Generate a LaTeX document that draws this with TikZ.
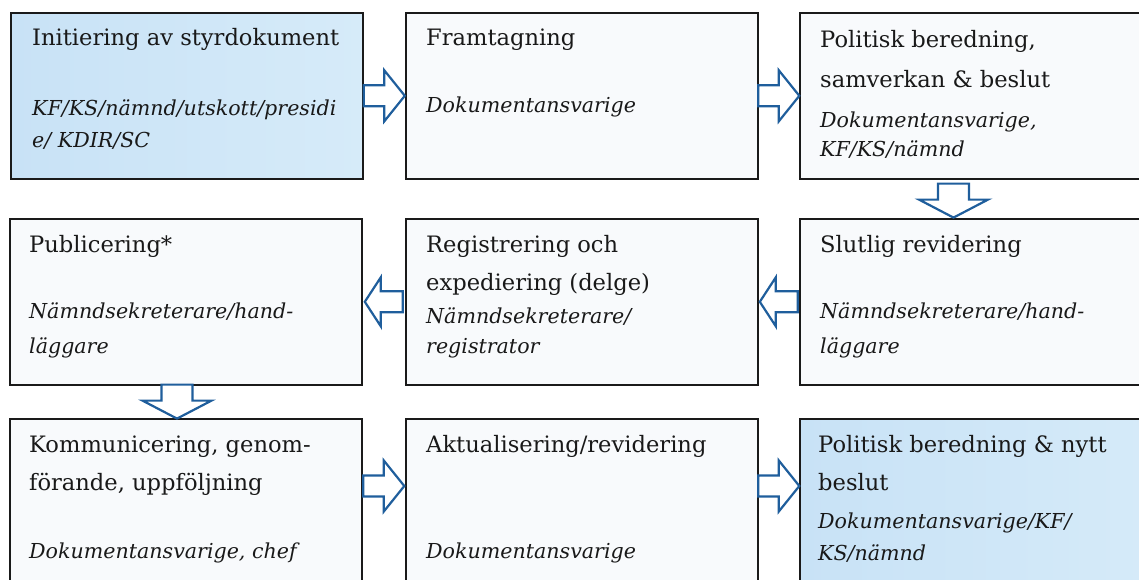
\documentclass[tikz,border=0pt]{standalone}
\usepackage{fontspec}
\setmainfont{DejaVu Serif}
\usetikzlibrary{calc}
\definecolor{arrblue}{HTML}{1F5E9C}
\definecolor{blueA}{HTML}{C8E2F6}
\definecolor{blueB}{HTML}{D6EBF9}
\definecolor{plainfill}{HTML}{F8FAFC}
\definecolor{boxline}{HTML}{1A1A1A}
\tikzset{
  box/.style={draw=boxline, line width=1.6pt, fill=plainfill, anchor=north west, inner sep=0pt, minimum width=352pt, minimum height=166pt},
  lastcol/.style={minimum width=372pt},
  lastrow/.style={minimum height=200pt},
  bluebox/.style={box, left color=blueA, right color=blueB},
  ttl/.style={anchor=base west, inner sep=0pt, text=black!90, font=\fontsize{22.6}{22.6}\selectfont},
  role/.style={anchor=base west, inner sep=0pt, text=black!90, font=\fontsize{20.6}{20.6}\selectfont\itshape},
  arr/.style={draw=arrblue, line width=2.2pt, fill=white, line join=miter},
  rarr/.pic={\draw[arr] (-20.5,-10.5) -- (0,-10.5) -- (0,-25.5) -- (20.5,0) -- (0,25.5) -- (0,10.5) -- (-20.5,10.5) -- cycle;},
  larr/.pic={\draw[arr] (19,-10.5) -- (-3,-10.5) -- (-3,-24.5) -- (-19,0) -- (-3,24.5) -- (-3,10.5) -- (19,10.5) -- cycle;},
  darr/.pic={\draw[arr] (-15.5,-16) -- (15.5,-16) -- (15.5,0) -- (34.5,0) -- (0,18) -- (-34.5,0) -- (-15.5,0) -- cycle;}
}
\begin{document}
\begin{tikzpicture}[x=1pt,y=-1pt]
\useasboundingbox (0,0) rectangle (1139,579);
\clip (0,0) rectangle (1139,579);
% boxes
\node[bluebox] (a) at (10,12) {};
\node[box] (b) at (405,12) {};
\node[box, lastcol] (c) at (799,12) {};
\node[box] (d) at (9,218) {};
\node[box] (e) at (405,218) {};
\node[box, lastcol] (f) at (799,218) {};
\node[box, lastrow] (g) at (9,418) {};
\node[box, lastrow] (h) at (405,418) {};
\node[bluebox, lastcol, lastrow] (i) at (799,418) {};
% texts
\node[ttl]  (a1) at ([shift={(22,33)}]a.north west) {Initiering av styrdokument};
\node[role] (a2) at ([shift={(22,103)}]a.north west) {KF/KS/nämnd/utskott/presidi};
\node[role] (a3) at ([shift={(22,135)}]a.north west) {e/ KDIR/SC};
\node[ttl]  (b1) at ([shift={(21,33)}]b.north west) {Framtagning};
\node[role] (b2) at ([shift={(21,100)}]b.north west) {Dokumentansvarige};
\node[ttl]  (c1) at ([shift={(21,35)}]c.north west) {Politisk beredning,};
\node[ttl]  (c2) at ([shift={(21,75)}]c.north west) {samverkan \& beslut};
\node[role] (c3) at ([shift={(21,115)}]c.north west) {Dokumentansvarige,};
\node[role] (c4) at ([shift={(21,144)}]c.north west) {KF/KS/nämnd};
\node[ttl]  (d1) at ([shift={(20,34)}]d.north west) {Publicering*};
\node[role] (d2) at ([shift={(20,100)}]d.north west) {Nämndsekreterare/hand-};
\node[role] (d3) at ([shift={(20,135)}]d.north west) {läggare};
\node[ttl]  (e1) at ([shift={(21,34)}]e.north west) {Registrering och};
\node[ttl]  (e2) at ([shift={(21,72)}]e.north west) {expediering (delge)};
\node[role] (e3) at ([shift={(21,105)}]e.north west) {Nämndsekreterare/};
\node[role] (e4) at ([shift={(21,135)}]e.north west) {registrator};
\node[ttl]  (f1) at ([shift={(21,34)}]f.north west) {Slutlig revidering};
\node[role] (f2) at ([shift={(21,100)}]f.north west) {Nämndsekreterare/hand-};
\node[role] (f3) at ([shift={(21,135)}]f.north west) {läggare};
\node[ttl]  (g1) at ([shift={(20,34)}]g.north west) {Kommunicering, genom-};
\node[ttl]  (g2) at ([shift={(20,72)}]g.north west) {förande, uppföljning};
\node[role] (g3) at ([shift={(20,140)}]g.north west) {Dokumentansvarige, chef};
\node[ttl]  (h1) at ([shift={(21,34)}]h.north west) {Aktualisering/revidering};
\node[role] (h2) at ([shift={(21,140)}]h.north west) {Dokumentansvarige};
\node[ttl]  (i1) at ([shift={(19,34)}]i.north west) {Politisk beredning \& nytt};
\node[ttl]  (i2) at ([shift={(19,72)}]i.north west) {beslut};
\node[role] (i3) at ([shift={(19,110)}]i.north west) {Dokumentansvarige/KF/};
\node[role] (i4) at ([shift={(19,142)}]i.north west) {KS/nämnd};
% arrow positions
\coordinate (ab) at ($(a.east)!0.5!(b.west)$);
\coordinate (bc) at ($(b.east)!0.5!(c.west)$);
\path (c.south west) ++(154.5,20) coordinate (cf);
\coordinate (fe) at ($(e.east)!0.5!(f.west)$);
\coordinate (ed) at ($(d.east)!0.5!(e.west)$);
\path (d.south west) ++(168,15) coordinate (dg);
\path ($(g.north east)!0.5!(h.north west)$) ++(0,68) coordinate (gh);
\path ($(h.north east)!0.5!(i.north west)$) ++(0,68) coordinate (hi);
% arrows
\pic at (ab) {rarr};
\pic at (bc) {rarr};
\pic at (cf) {darr};
\pic at (fe) {larr};
\pic at (ed) {larr};
\pic at (dg) {darr};
\pic at (gh) {rarr};
\pic at (hi) {rarr};
\end{tikzpicture}
\end{document}
